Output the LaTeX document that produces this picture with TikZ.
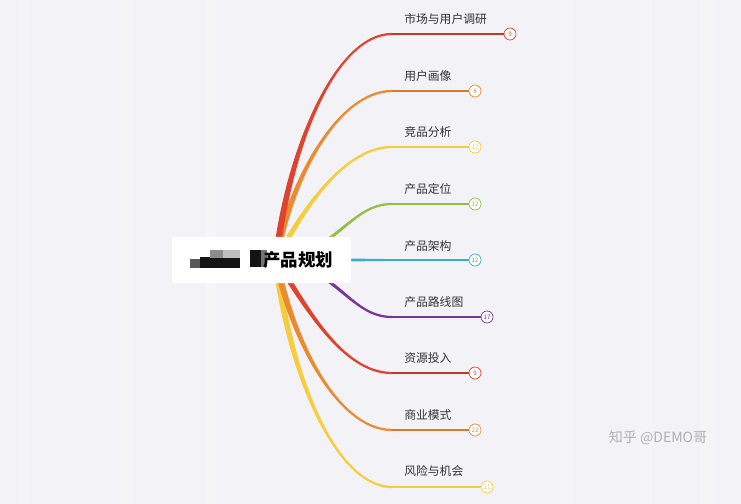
\documentclass[tikz,border=0pt]{standalone}
\usepackage{fontspec}
\newfontfamily\cjk{Noto Sans CJK SC}
\usepackage{tikz}
\usetikzlibrary{calc}
\definecolor{mmred}{RGB}{224,67,45}
\definecolor{mmorange}{RGB}{236,138,48}
\definecolor{mmyellow}{RGB}{245,205,62}
\definecolor{mmgreen}{RGB}{151,190,68}
\definecolor{mmcyan}{RGB}{58,172,200}
\definecolor{mmpurple}{RGB}{122,52,150}
\definecolor{bgpaper}{RGB}{243,242,246}
\newcommand{\mmbranch}[5]{%
  \fill[#1] ($(root)+(-3.4,0)$) .. controls ($(#3)+(-2.8,0)$) and ($(#4)+(0,{-(#5)*1.4})$) .. ($(#2)+(0,{-(#5)*1.1})$)
    -- ($(#2)+(0,{(#5)*1.1})$) .. controls ($(#4)+(0,{(#5)*1.4})$) and ($(#3)+(2.8,0)$) .. ($(root)+(3.4,0)$) -- cycle;}

\begin{document}
\begin{tikzpicture}[x=0.025cm,y=-0.025cm,
  num/.style={circle, draw=#1, fill=white, line width=0.5pt, minimum size=0.3cm, inner sep=0pt, text=#1, font=\cjk\fontsize{4.4}{4.4}\selectfont},
  lbl/.style={anchor=west, inner sep=0pt, text=black!80, font=\cjk\fontsize{8.4}{9}\selectfont},
  leaf/.style={#1, line width=0.9pt},
  stripe/.style={white, opacity=0.22},
  rootbox/.style={rectangle, rounded corners=0.8mm, fill=white, minimum width=4.475cm, minimum height=1.15cm, inner sep=0pt}]
\useasboundingbox (0,0) rectangle (741,504);
\fill[bgpaper] (0,0) rectangle (741,504);
\fill[stripe] (18,0) rectangle (30,504);
\fill[stripe] (120,0) rectangle (134,504);
\fill[stripe] (205,0) rectangle (216,504);
\fill[stripe] (560,0) rectangle (574,504);
\fill[stripe] (640,0) rectangle (652,504);
\fill[stripe] (700,0) rectangle (714,504);

\coordinate (root) at (276,260);
\coordinate (e1) at (392,34);
\coordinate (e2) at (392,91);
\coordinate (e3) at (392,147);
\coordinate (e4) at (392,204);
\coordinate (e5) at (392,260);
\coordinate (e6) at (392,317);
\coordinate (e7) at (392,373);
\coordinate (e8) at (392,430);
\coordinate (e9) at (392,487);

\mmbranch{mmyellow}{e9}{288,370}{335,487}{-1}
\mmbranch{mmorange}{e8}{292,340}{338,430}{-1}
\mmbranch{mmred}{e7}{305,305}{342,373}{-1}
\mmbranch{mmpurple}{e6}{338,268}{350,317}{-1}
\fill[mmcyan] ($(root)+(0,-2.4)$) -- ($(e5)+(0,-0.9)$) -- ($(e5)+(0,0.9)$) -- ($(root)+(0,2.4)$) -- cycle;
\mmbranch{mmgreen}{e4}{338,252}{350,204}{1}
\mmbranch{mmyellow}{e3}{300,215}{342,147}{1}
\mmbranch{mmorange}{e2}{290,180}{338,91}{1}
\mmbranch{mmred}{e1}{288,150}{335,34}{1}

\node[num=mmred] (n1) at (510,34) {9};
\node[num=mmorange] (n2) at (475,91) {8};
\node[num=mmyellow] (n3) at (475,147) {12};
\node[num=mmgreen] (n4) at (475,204) {12};
\node[num=mmcyan] (n5) at (475,260) {12};
\node[num=mmpurple] (n6) at (487,317) {17};
\node[num=mmred] (n7) at (475,373) {9};
\node[num=mmorange] (n8) at (475,430) {22};
\node[num=mmyellow] (n9) at (487,487) {11};

\draw[leaf=mmred!85!black] (e1) -- (n1);
\draw[leaf=mmorange!90!black] (e2) -- (n2);
\draw[leaf=mmyellow] (e3) -- (n3);
\draw[leaf=mmgreen] (e4) -- (n4);
\draw[leaf=mmcyan] (e5) -- (n5);
\draw[leaf=mmpurple] (e6) -- (n6);
\draw[leaf=mmred!85!black] (e7) -- (n7);
\draw[leaf=mmorange!90!black] (e8) -- (n8);
\draw[leaf=mmyellow] (e9) -- (n9);

\node[lbl] (l1) at (404,19) {市场与用户调研};
\node[lbl] (l2) at (404,76) {用户画像};
\node[lbl] (l3) at (404,132) {竞品分析};
\node[lbl] (l4) at (404,189) {产品定位};
\node[lbl] (l5) at (404,246) {产品架构};
\node[lbl] (l6) at (404,302) {产品路线图};
\node[lbl] (l7) at (404,358) {资源投入};
\node[lbl] (l8) at (404,415) {商业模式};
\node[lbl] (l9) at (404,471) {风险与机会};

\node[rootbox] (center) at (261.5,260) {};
\fill[black!65] (190,259) rectangle (200,268);
\fill[black!92] (200,257) rectangle (240,268);
\fill[black!45] (210,250) rectangle (223,258);
\fill[black!25] (223,250) rectangle (240,258);
\fill[black!92] (250,250) rectangle (261,267);
\fill[black!55] (261,250) rectangle (267,267);
\node[inner sep=0pt, font=\cjk\bfseries\fontsize{12.4}{13}\selectfont] (title) at (298,260) {产品规划};

\node[inner sep=0pt, text=black!30, font=\cjk\fontsize{10}{11}\selectfont] (mark) at (658,438) {知乎 @DEMO哥};
\end{tikzpicture}
\end{document}
